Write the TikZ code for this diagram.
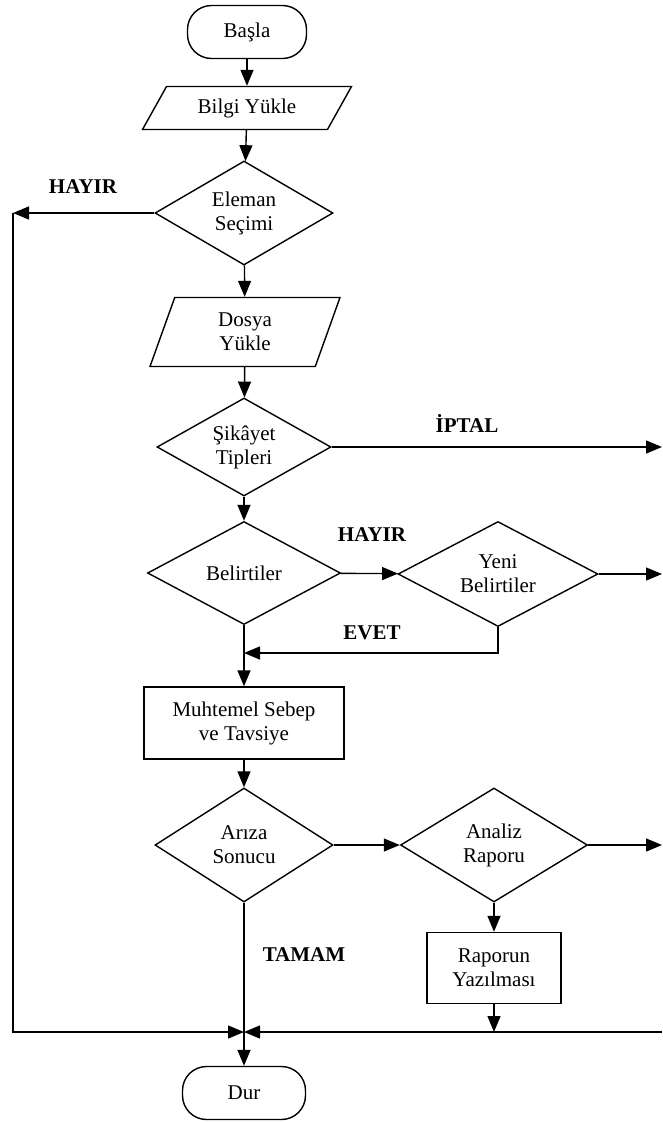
\documentclass[tikz,border=0pt]{standalone}
\usepackage{fontspec}
\setmainfont{Liberation Serif}
\usetikzlibrary{shapes.geometric,arrows.meta}

\begin{document}
\begin{tikzpicture}[x=1pt,y=-1pt,line width=1.4pt,>={Triangle[length=16pt,width=13pt]},
  every node/.style={font=\fontsize{21}{24}\selectfont,align=center},
  term/.style={draw,rectangle,rounded corners=24pt,minimum width=#1,minimum height=53pt},
  karar/.style 2 args={draw,diamond,inner sep=0pt,aspect=1.8,minimum width=#1,minimum height=#2},
  kutu/.style 2 args={draw,rectangle,minimum width=#1,minimum height=#2},
  veri/.style 2 args={draw,trapezium,trapezium left angle=#1,trapezium right angle=#2,trapezium stretches body},
  etiket/.style={font=\fontsize{21}{24}\selectfont\bfseries}]
\useasboundingbox (0,0) rectangle (662,1122);
\node[term=119pt] (basla) at (247,32) {Başla};
\node[veri={47}{133},minimum width=209pt,minimum height=43pt] (bilgi) at (247,108) {Bilgi Yükle};
\node[karar={178pt}{104pt}] (eleman) at (244,213) {Eleman\\Seçimi};
\node[veri={61}{119},minimum width=190pt,minimum height=69pt] (dosya) at (245,332) {Dosya\\Yükle};
\node[karar={174pt}{98pt}] (sikayet) at (244,447) {Şikâyet\\Tipleri};
\node[karar={193pt}{103pt}] (belirti) at (244,573) {Belirtiler};
\node[karar={200pt}{105pt}] (yeni) at (498,574) {Yeni\\Belirtiler};
\node[kutu={200pt}{72pt}] (muhtemel) at (244,723) {Muhtemel Sebep\\ve Tavsiye};
\node[karar={178pt}{114pt}] (ariza) at (244,845) {Arıza\\Sonucu};
\node[karar={187pt}{114pt}] (analiz) at (494,845) {Analiz\\Raporu};
\node[kutu={134pt}{71pt}] (rapor) at (494,968) {Raporun\\Yazılması};
\node[term=123pt] (dur) at (244,1093) {Dur};
\node[etiket] (hayir1) at (83,187) {HAYIR};
\node[etiket] (iptal) at (467,423) {İPTAL};
\node[etiket] (hayir2) at (372,535) {HAYIR};
\node[etiket] (evet) at (372,633) {EVET};
\node[etiket] (tamam) at (304,955) {TAMAM};
\coordinate (sag) at (662,0);
\coordinate (sol) at (13,0);
\coordinate (geri) at (0,653);
\coordinate (bir) at (244,1032);
\draw[->] (basla) -- (bilgi);
\draw[->] (bilgi) -- (eleman);
\draw[->] (eleman) -- (dosya);
\draw[->] (dosya) -- (sikayet);
\draw[->] (sikayet) -- (belirti);
\draw[->] (belirti) -- (yeni);
\draw[->] (belirti) -- (muhtemel);
\draw[->] (muhtemel) -- (ariza);
\draw[->] (ariza) -- (analiz);
\draw[->] (analiz) -- (rapor);
\draw[->] (eleman.west) -- (eleman.west -| sol);
\draw[->] (eleman.west -| sol) |- (bir);
\draw[->] (sikayet.east) -- (sikayet.east -| sag);
\draw[->] (yeni.east) -- (yeni.east -| sag);
\draw[->] (analiz.east) -- (analiz.east -| sag);
\draw[->] (yeni.south) |- (belirti.south |- geri);
\draw[->] (rapor) -- (rapor |- bir);
\draw[->] (bir -| sag) -- (bir);
\draw (ariza.south) -- (bir);
\draw[->] (bir) -- (dur);
\end{tikzpicture}
\end{document}
